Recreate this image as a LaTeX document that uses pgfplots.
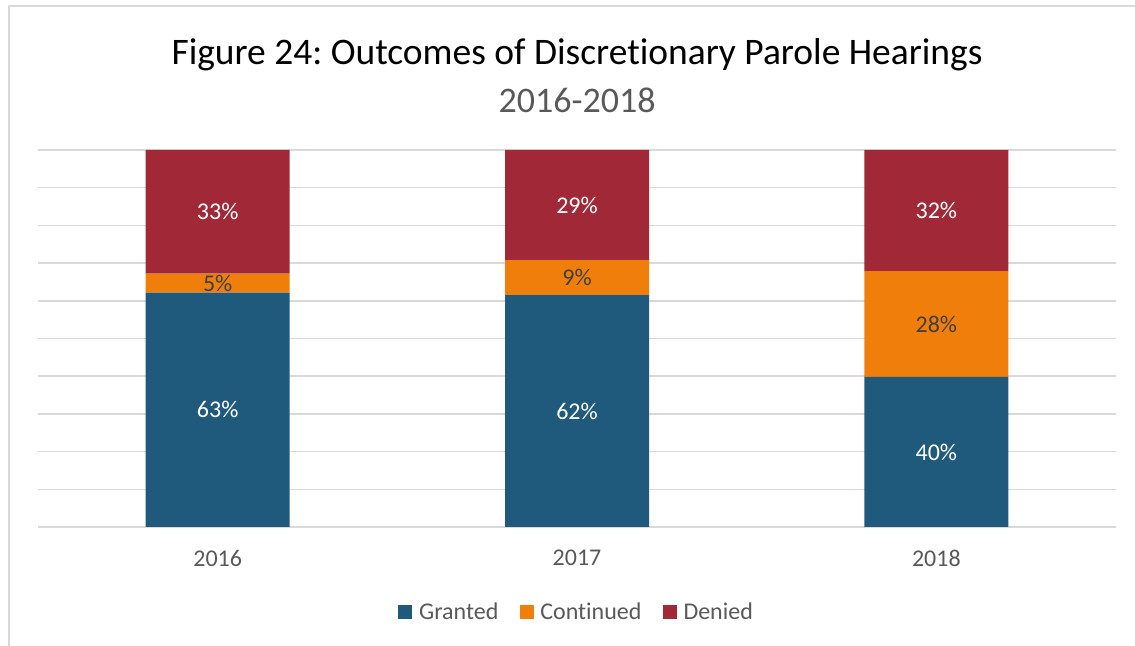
\documentclass[border=0pt]{standalone}
\usepackage{pgfplots}
\pgfplotsset{compat=1.18}
\usepackage{fontspec}
\setmainfont{Carlito}[Ligatures={NoCommon}]
\frenchspacing
\definecolor{cgrant}{HTML}{1F5A7C}
\definecolor{ccont}{HTML}{EF7F0A}
\definecolor{cden}{HTML}{A02837}
\definecolor{cgrid}{HTML}{D9D9D9}
\definecolor{ctext}{HTML}{595959}
\definecolor{clab}{HTML}{404040}
\begin{document}
\begin{tikzpicture}
\useasboundingbox (0pt,0pt) rectangle (851.25pt,484.5pt);
\draw[cgrid, line width=1.1pt] (6.75pt,0pt) -- (6.75pt,480pt) -- (851.25pt,480pt);
\node[font=\fontsize{28.1}{33}\selectfont, text=black] at (432.75pt,443.25pt) {Figure 24: Outcomes of Discretionary Parole Hearings};
\node[font=\fontsize{27}{32}\selectfont, text=ctext] at (432.75pt,409.5pt) {2016-2018};
\begin{axis}[at={(28.5pt,89.25pt)}, anchor=south west, scale only axis, width=808.5pt, height=282.75pt,
  ybar stacked, bar width=108pt,
  xmin=-0.5, xmax=2.5, ymin=0, ymax=100,
  xtick={0,1,2}, xticklabels={2016,2017,2018},
  ytick={0,10,...,100}, yticklabels={},
  ymajorgrids, grid style={cgrid, line width=1.1pt},
  axis line style={draw=none}, major tick length=0pt,
  /pgf/number format/assume math mode=true,
  xticklabel style={font=\fontsize{18}{22}\selectfont, text=ctext, anchor=center, yshift=-23.25pt},
  point meta=explicit symbolic,
  nodes near coords,
  every node near coord/.append style={anchor=center, font=\fontsize{18}{22}\selectfont},
  legend columns=3,
  legend style={at={(0.5,-0.225)}, anchor=center, draw=none, font=\fontsize{18}{22}\selectfont, text=ctext,
    /tikz/every odd column/.append style={column sep=3pt},
    /tikz/every even column/.append style={column sep=14pt}},
  legend image code/.code={\fill[#1] (0pt,-5.25pt) rectangle (10.5pt,5.25pt);},
]
\addplot[fill=cgrant, draw=none, every node near coord/.append style={text=white}]
  coordinates {(0,62.2)[63\%] (1,61.5)[62\%] (2,39.8)[40\%]};
\addplot[fill=ccont, draw=none, every node near coord/.append style={text=clab}]
  coordinates {(0,5.0)[5\%] (1,9.3)[9\%] (2,28.1)[28\%]};
\addplot[fill=cden, draw=none, every node near coord/.append style={text=white}]
  coordinates {(0,32.8)[33\%] (1,29.2)[29\%] (2,32.1)[32\%]};
\legend{Granted,Continued,Denied}
\end{axis}
\end{tikzpicture}
\end{document}
